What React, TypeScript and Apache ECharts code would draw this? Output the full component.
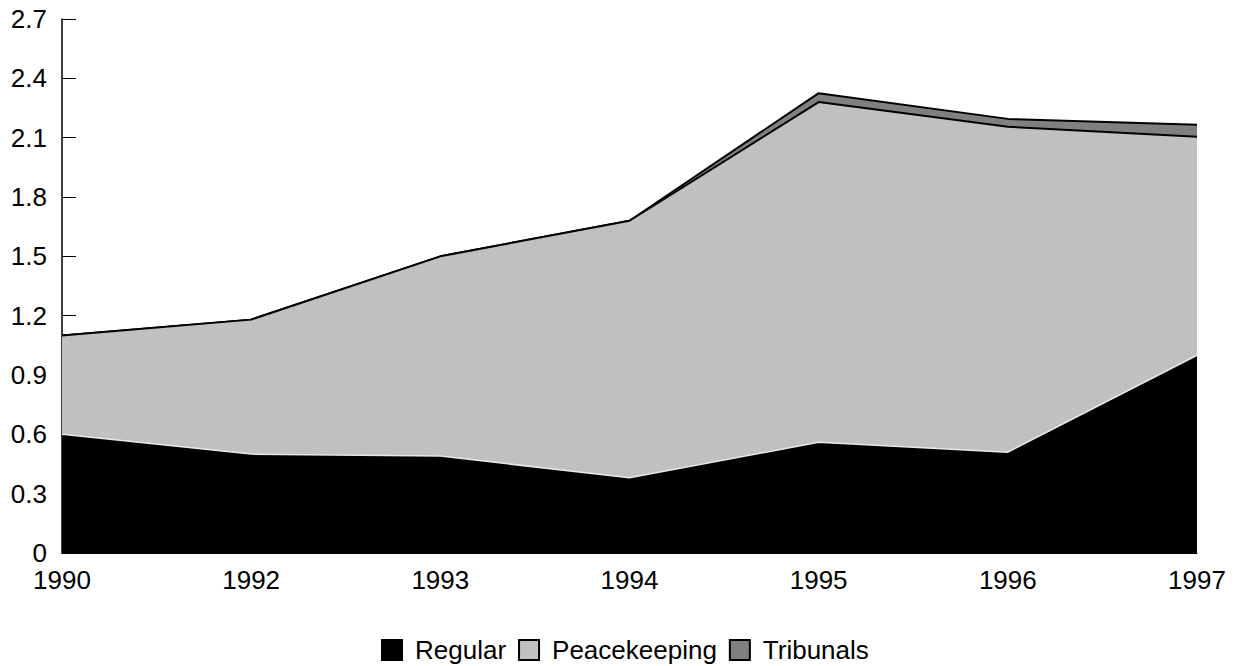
import React, { useEffect, useRef } from "react";
import * as echarts from "echarts";

const years = ["1990", "1992", "1993", "1994", "1995", "1996", "1997"];
const regular = [0.6, 0.5, 0.49, 0.38, 0.56, 0.51, 1.0];
const peacekeeping = [0.5, 0.68, 1.01, 1.3, 1.72, 1.645, 1.105];
const tribunals = [0, 0, 0, 0, 0.045, 0.04, 0.06];

const FONT = "'Liberation Sans', Arial, sans-serif";

export default function App() {
  const ref = useRef<HTMLDivElement>(null);
  useEffect(() => {
    document.body.style.margin = "0";
    const chart = echarts.init(ref.current!, null, { renderer: "svg" });
    chart.setOption({
      animation: false,
      backgroundColor: "#ffffff",
      textStyle: { fontFamily: FONT, color: "#000" },
      grid: { left: 62, right: 39, top: 19, bottom: 113, containLabel: false },
      legend: {
        left: 381,
        top: 637,
        padding: 0,
        itemWidth: 20,
        itemHeight: 20,
        itemGap: 12,
        icon: "rect",
        textStyle: { fontSize: 26, fontFamily: FONT, color: "#000", padding: [0, 0, 0, 8] },
        data: ["Regular", "Peacekeeping", "Tribunals"],
      },
      xAxis: {
        type: "category",
        data: years,
        boundaryGap: false,
        axisLine: { show: true, lineStyle: { color: "#000", width: 1 } },
        axisTick: { show: false },
        axisLabel: { fontSize: 26, fontFamily: FONT, color: "#000", margin: 14 },
        splitLine: { show: false },
      },
      yAxis: {
        type: "value",
        min: 0,
        max: 2.7,
        interval: 0.3,
        axisLine: { show: true, lineStyle: { color: "#000", width: 1.5 } },
        axisTick: { show: true, inside: true, length: 14, lineStyle: { color: "#000", width: 1 } },
        axisLabel: {
          fontSize: 26,
          fontFamily: FONT,
          color: "#000",
          margin: 15,
          formatter: (v: number) => (v === 0 ? "0" : v.toFixed(1)),
        },
        splitLine: { show: false },
      },
      series: [
        {
          name: "Regular",
          type: "line",
          stack: "total",
          data: regular,
          symbol: "none",
          lineStyle: { color: "#e8e8e8", width: 1.5 },
          itemStyle: { color: "#000000", borderColor: "#000", borderWidth: 1.5 },
          areaStyle: { color: "#000000", opacity: 1 },
          z: 3,
        },
        {
          name: "Peacekeeping",
          type: "line",
          stack: "total",
          data: peacekeeping,
          symbol: "none",
          lineStyle: { color: "#000", width: 2 },
          itemStyle: { color: "#c0c0c0", borderColor: "#000", borderWidth: 1.5 },
          areaStyle: { color: "#c0c0c0", opacity: 1 },
          z: 2,
        },
        {
          name: "Tribunals",
          type: "line",
          stack: "total",
          data: tribunals,
          symbol: "none",
          lineStyle: { color: "#000", width: 2 },
          itemStyle: { color: "#808080", borderColor: "#000", borderWidth: 1.5 },
          areaStyle: { color: "#808080", opacity: 1 },
          z: 1,
        },
      ],
    });
    return () => chart.dispose();
  }, []);
  return <div ref={ref} style={{ width: 1236, height: 666 }} />;
}
